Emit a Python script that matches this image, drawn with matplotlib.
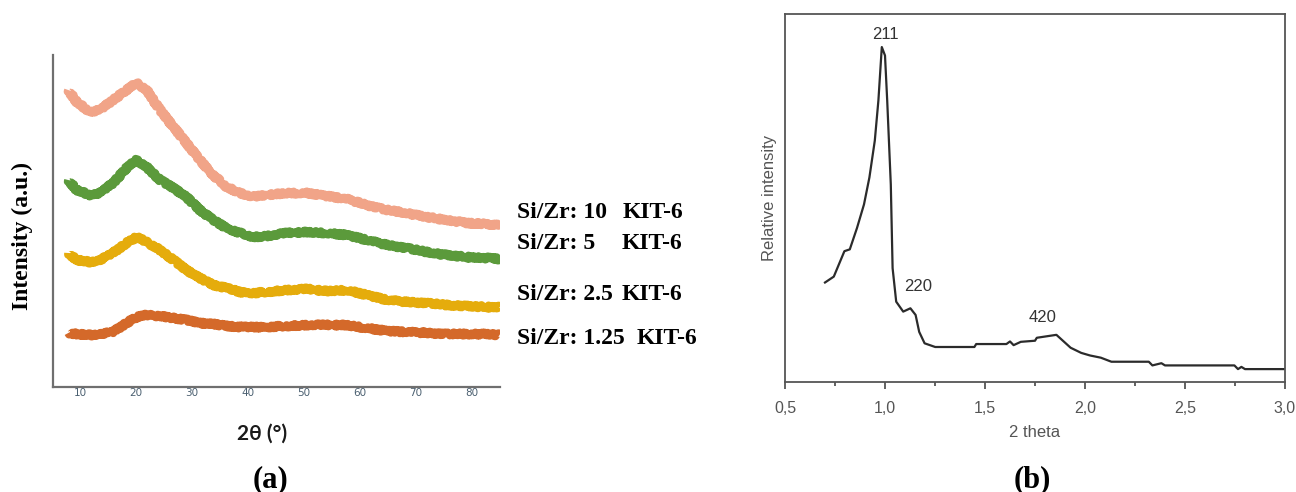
import matplotlib.pyplot as plt
from matplotlib.ticker import FuncFormatter, MultipleLocator

# (a) XRD patterns of Zr-KIT-6 samples, intensity in arbitrary units
two_theta_a = [7.9, 9.4, 11.8, 13.6, 15.9, 18.3, 20.1, 21.9, 24.3, 26.7, 29.0,
               31.4, 33.8, 36.2, 38.6, 41.0, 43.3, 46.9, 50.5, 54.0, 57.6, 61.2,
               64.8, 68.3, 71.9, 75.5, 79.0, 82.6, 85.0]
si_zr_10 = [297, 285, 275, 277, 287, 297, 304, 297, 277, 260, 244, 227, 212, 200,
            194, 190, 192, 194, 194, 191, 188, 182, 177, 174, 170, 167, 164, 163, 162]
si_zr_5 = [207, 197, 192, 194, 204, 219, 227, 220, 207, 199, 190, 177, 167, 159,
           154, 150, 151, 154, 155, 154, 152, 147, 142, 139, 135, 132, 130, 129, 128]
si_zr_2_5 = [134, 127, 125, 127, 134, 144, 150, 145, 137, 127, 117, 109, 102, 99,
             95, 94, 95, 97, 98, 96, 97, 92, 87, 85, 84, 82, 81, 80, 80]
si_zr_1_25 = [54, 53, 52, 53, 55, 64, 70, 72, 71, 69, 67, 64, 63, 61,
              60, 60, 60, 61, 62, 62, 62, 59, 56, 55, 54, 53, 53, 53, 52]

series_a = [si_zr_10, si_zr_5, si_zr_2_5, si_zr_1_25]
names_a = ["Si/Zr: 10", "Si/Zr: 5", "Si/Zr: 2.5", "Si/Zr: 1.25"]
colors_a = ["#f1a488", "#5b9a3b", "#e5ac0c", "#d4692a"]

# (b) low-angle pattern of KIT-6
two_theta_b = [0.70, 0.744, 0.797, 0.824, 0.86, 0.895, 0.922, 0.949, 0.967, 0.984,
               1.0, 1.011, 1.029, 1.038, 1.056, 1.091, 1.127, 1.153, 1.171, 1.198,
               1.251, 1.447, 1.456, 1.607, 1.625, 1.643, 1.679, 1.75, 1.759, 1.857,
               1.928, 1.981, 2.025, 2.079, 2.132, 2.319, 2.337, 2.382, 2.4, 2.747,
               2.765, 2.782, 2.8, 2.996]
rel_int = [0.27, 0.286, 0.355, 0.36, 0.418, 0.482, 0.555, 0.655, 0.764, 0.909,
           0.886, 0.764, 0.536, 0.309, 0.218, 0.191, 0.2, 0.182, 0.136, 0.105,
           0.095, 0.095, 0.103, 0.103, 0.11, 0.1, 0.109, 0.112, 0.12, 0.128,
           0.093, 0.079, 0.072, 0.066, 0.055, 0.055, 0.045, 0.051, 0.045, 0.045,
           0.035, 0.041, 0.035, 0.035]
peaks = ["211", "220", "420"]
peak_pos = [(1.0, 0.942), (1.165, 0.258), (1.79, 0.176)]

W, H = 1296, 492
fig = plt.figure(figsize=(W / 100, H / 100), dpi=100)


def px(x, y):
    return x / W, 1 - y / H


serif = "Liberation Serif"
sans = "Liberation Sans"

# ---- panel (a)
ax1 = fig.add_axes([53 / W, 1 - 387 / H, 447 / W, 332 / H])
for ys, c in zip(series_a, colors_a):
    ln, = ax1.plot(two_theta_a, ys, color=c, lw=5.8, solid_capstyle="butt")
    ln.set_sketch_params(scale=1.6, length=2.0, randomness=3.0)
ax1.set_xlim(5.18, 85)
ax1.set_ylim(0, 332)
for s in ["top", "right"]:
    ax1.spines[s].set_visible(False)
for s in ["left", "bottom"]:
    ax1.spines[s].set_color("#6f6f6f")
    ax1.spines[s].set_linewidth(1.6)
ax1.set_xticks(range(10, 90, 10))
ax1.set_yticks([])
ax1.tick_params(axis="x", length=0, pad=1, labelsize=7.5, labelcolor="#4a5f70")

label_y = [213, 244, 294, 338]
kit_x = [623, 622, 622, 637]
for name, ly, kx in zip(names_a, label_y, kit_x):
    fig.text(*px(517, ly), name, family=serif, weight="bold", size=17,
             va="center", ha="left")
    fig.text(*px(kx, ly), "KIT-6", family=serif, weight="bold", size=17,
             va="center", ha="left")

fig.text(*px(22, 236), "Intensity (a.u.)", family=serif, weight="bold",
         size=17, rotation=90, va="center", ha="center")
fig.text(*px(262, 434), "2θ (°)", family=["Lato", "DejaVu Sans"],
         weight="bold", size=15, va="center", ha="center", color="#1a1a1a")
fig.text(*px(270, 480), "(a)", family=serif, weight="bold", size=22,
         va="center", ha="center")

# ---- panel (b)
ax2 = fig.add_axes([785 / W, 1 - 382 / H, 500 / W, 368.5 / H])
ax2.plot(two_theta_b, rel_int, color="#2b2b2b", lw=1.6)
ax2.set_xlim(0.5, 3.0)
ax2.set_ylim(0, 1)
for s in ax2.spines.values():
    s.set_color("#555555")
    s.set_linewidth(1.3)
ax2.xaxis.set_major_locator(MultipleLocator(0.5))
ax2.xaxis.set_minor_locator(MultipleLocator(0.25))
ax2.xaxis.set_major_formatter(FuncFormatter(lambda v, p: f"{v:.1f}".replace(".", ",")))
ax2.set_yticks([])
ax2.tick_params(axis="x", which="major", direction="out", length=5, width=1.3,
                color="#555555", pad=9, labelsize=11.5, labelcolor="#555555")
ax2.tick_params(axis="x", which="minor", direction="out", length=3, width=1.3,
                color="#555555")
for lab in ax2.get_xticklabels():
    lab.set_family(sans)
ax2.set_xlabel("2 theta", family=sans, size=12, color="#555555", labelpad=6)
ax2.set_ylabel("Relative intensity", family=sans, size=12, color="#555555",
               labelpad=6)
for t, (x, y) in zip(peaks, peak_pos):
    ax2.text(x, y, t, family=sans, size=12, color="#333333",
             ha="center", va="center")

fig.text(*px(1032, 480), "(b)", family=serif, weight="bold", size=22,
         va="center", ha="center")

fig.savefig("out.png", dpi=100)
